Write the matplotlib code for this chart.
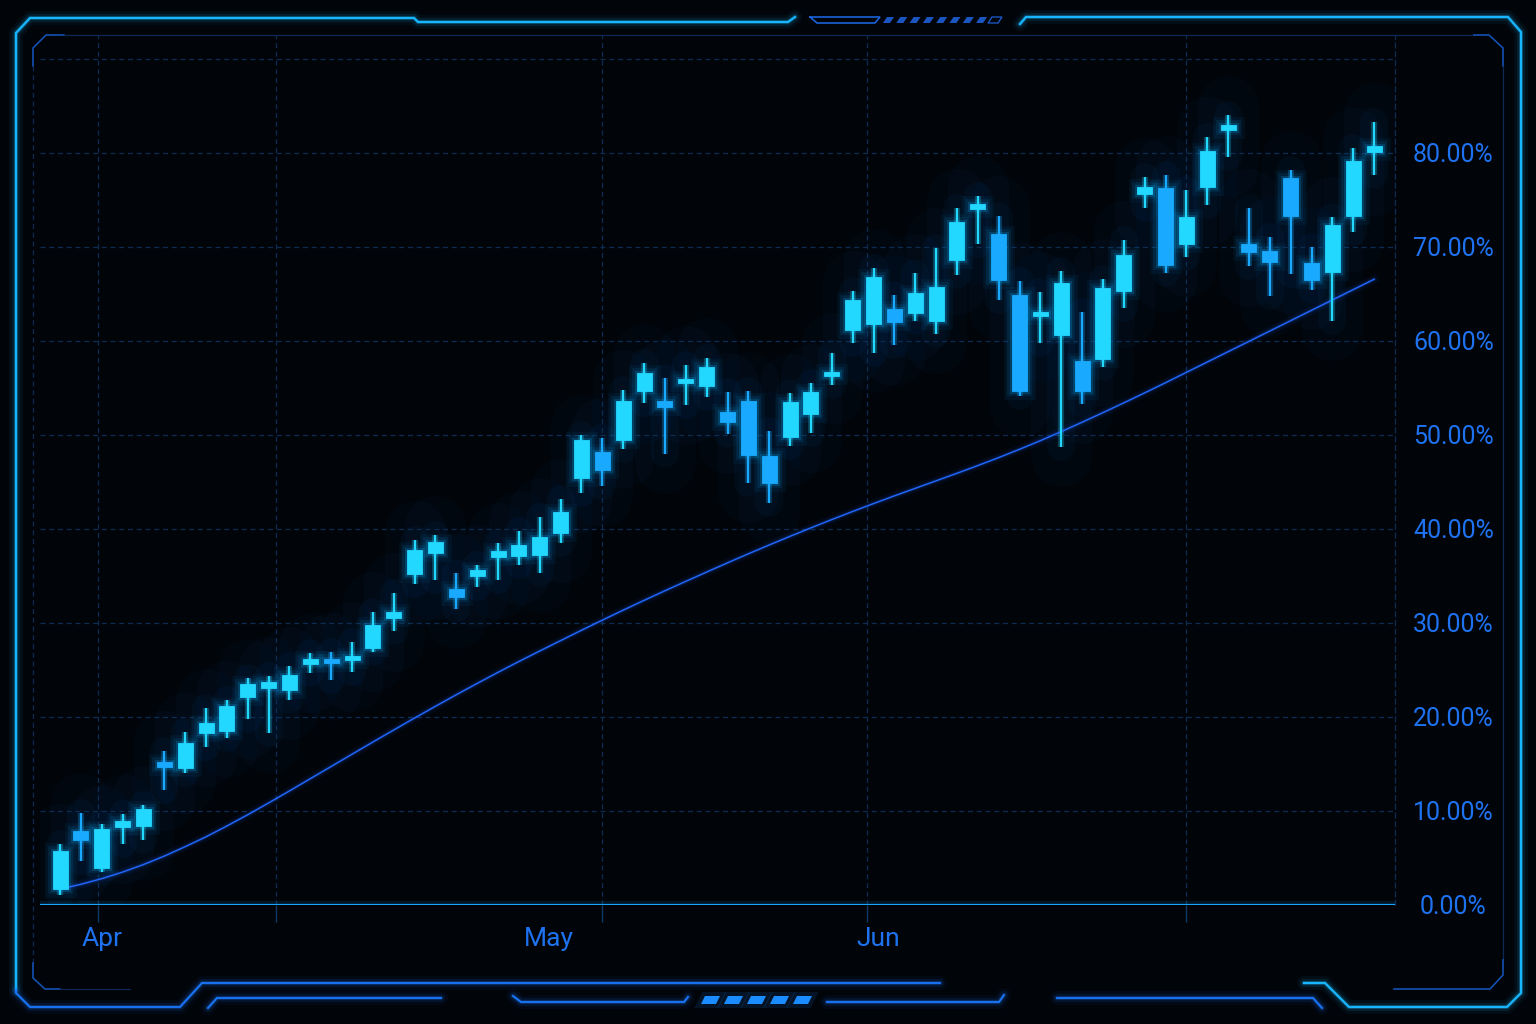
import numpy as np
import matplotlib
matplotlib.use("Agg")
from matplotlib import pyplot as plt
from matplotlib.patches import Polygon
from matplotlib.ticker import FuncFormatter

# daily candles (values in %)
opens = [1.7, 7.9, 3.9, 8.3, 8.4, 15.2, 14.6, 18.3, 18.5, 22.1,
         23.1, 22.9, 25.6, 26.2, 26.0, 27.3, 30.5, 35.2, 37.4, 33.6,
         35.0, 37.0, 37.1, 37.2, 39.6, 45.4, 48.2, 49.4, 54.6, 53.6,
         55.5, 55.2, 52.4, 53.6, 47.7, 49.8, 52.2, 56.2, 61.1, 61.8,
         63.4, 62.9, 62.1, 68.6, 74.0, 71.3, 64.9, 62.6, 60.6, 57.8,
         58.0, 65.3, 75.6, 76.2, 70.3, 76.3, 82.4, 70.3, 69.5, 77.3,
         68.3, 67.3, 73.3, 80.1]
closes = [5.7, 6.9, 8.1, 8.9, 10.2, 14.7, 17.2, 19.4, 21.2, 23.5,
          23.7, 24.5, 26.2, 25.7, 26.5, 29.8, 31.1, 37.7, 38.6, 32.7,
          35.6, 37.6, 38.3, 39.1, 41.8, 49.4, 46.3, 53.6, 56.6, 52.9,
          55.9, 57.2, 51.4, 47.8, 44.9, 53.5, 54.5, 56.7, 64.3, 66.8,
          62.0, 65.1, 65.7, 72.6, 74.5, 66.4, 54.6, 62.9, 66.1, 54.7,
          65.6, 69.1, 76.3, 68.0, 73.1, 80.2, 82.9, 69.4, 68.4, 73.3,
          66.5, 72.3, 79.1, 80.7]
highs = [6.5, 9.8, 8.6, 9.7, 10.6, 16.4, 18.4, 20.9, 21.8, 24.1,
         24.3, 25.4, 26.8, 26.9, 28.0, 31.2, 33.2, 38.8, 39.3, 35.3,
         36.2, 38.5, 39.8, 41.2, 43.2, 50.0, 49.7, 54.8, 57.6, 56.0,
         57.4, 58.2, 54.5, 54.6, 50.4, 54.4, 55.5, 58.7, 65.3, 67.7,
         64.9, 67.2, 69.9, 74.1, 75.4, 73.3, 66.3, 65.2, 67.4, 63.0,
         66.6, 70.7, 77.4, 77.6, 76.0, 81.7, 84.0, 74.1, 71.0, 78.1,
         70.0, 73.2, 80.5, 83.2]
lows = [1.1, 4.7, 3.5, 6.5, 6.9, 12.2, 14.0, 16.8, 17.8, 19.8,
        18.3, 21.8, 24.7, 23.9, 24.8, 26.9, 29.1, 34.1, 34.6, 31.5,
        33.8, 34.6, 36.2, 35.3, 38.5, 43.8, 44.5, 48.5, 53.4, 48.0,
        53.2, 54.0, 50.1, 44.9, 42.7, 48.8, 50.2, 55.3, 59.8, 58.7,
        59.5, 62.1, 60.7, 67.0, 70.3, 64.3, 54.1, 59.8, 48.7, 53.3,
        57.2, 63.5, 74.1, 67.2, 68.9, 74.4, 79.5, 67.9, 64.7, 67.1,
        65.4, 62.1, 71.6, 77.6]
# smooth trend line
trend = [1.7, 2.2, 2.8, 3.5, 4.3, 5.2, 6.2, 7.25, 8.4, 9.6,
         10.85, 12.13, 13.43, 14.73, 16.03, 17.33, 18.61, 19.88, 21.13, 22.36,
         23.56, 24.74, 25.89, 27.01, 28.11, 29.21, 30.29, 31.35, 32.39, 33.41,
         34.41, 35.4, 36.38, 37.34, 38.28, 39.2, 40.1, 40.98, 41.84, 42.68,
         43.5, 44.3, 45.1, 45.9, 46.72, 47.57, 48.45, 49.37, 50.33, 51.33,
         52.35, 53.39, 54.45, 55.53, 56.63, 57.73, 58.83, 59.93, 61.03, 62.13,
         63.23, 64.33, 65.43, 66.53]

month_pos = [2.0, 23.45, 39.2]
month_labels = ["Apr", "May", "Jun"]
grid_x = [1.8, 10.35, 26.0, 38.7, 54.0]
y_ticks = [0, 10, 20, 30, 40, 50, 60, 70, 80]

W, H = 1536, 1024
BG = "#010409"
UP = "#22d8ff"
DOWN = "#19aaff"
TXT = "#1e72f0"
GRID = "#0c2c52"

fig = plt.figure(figsize=(W / 100, H / 100), dpi=100, facecolor=BG)
ax = fig.add_axes([40 / W, 1 - 905 / H, (1395 - 40) / W, (905 - 35) / H])
ax.set_facecolor("none")
ax.set_xlim(-0.96, 64.0)
ax.set_ylim(0, 92.5)

o = np.array(opens)
c = np.array(closes)
hi = np.array(highs)
lo = np.array(lows)
x = np.arange(len(o))
up = c >= o
cols = np.where(up, UP, DOWN)
bot = np.minimum(o, c)
ht = np.maximum(np.abs(c - o), 0.45)

# haze behind the candles
ax.vlines(x, lo - 1, hi + 1, color="#0a56b0", lw=44, alpha=0.04, zorder=1, capstyle="round")
ax.vlines(x, lo, hi, color="#0b78e0", lw=20, alpha=0.05, zorder=1, capstyle="round")

# glow
for lw, a in [(12, 0.06), (7, 0.1), (3.5, 0.2)]:
    ax.bar(x, ht, width=0.72, bottom=bot, color="none", edgecolor="#0ab0ff",
           linewidth=lw, alpha=a, zorder=2)
ax.vlines(x, lo, hi, colors=cols, lw=4.5, alpha=0.25, zorder=3)
ax.vlines(x, lo, hi, colors=cols, lw=1.6, zorder=4)
ax.bar(x, ht, width=0.72, bottom=bot, color=cols, edgecolor=cols,
       linewidth=0.6, zorder=5)

# trend line
ax.plot(x, trend, color="#1a60ff", lw=6, alpha=0.07, zorder=2)
ax.plot(x, trend, color="#1a60ff", lw=2.6, alpha=0.18, zorder=2)
ax.plot(x, trend, color="#2268ff", lw=1.0, zorder=3)

# baseline
ax.axhline(0, color="#1aa6ff", lw=6, alpha=0.1, zorder=2)
ax.axhline(0, color="#1aa6ff", lw=1.6, zorder=3)
ax.axhline(90, color=GRID, lw=0.9, ls=(0, (4, 3)), zorder=0)

for s in ["left", "top", "bottom"]:
    ax.spines[s].set_visible(False)
ax.spines["right"].set_color(GRID)
ax.spines["right"].set_linestyle((0, (4, 3)))
ax.spines["right"].set_linewidth(0.9)

ax.yaxis.tick_right()
ax.set_yticks(y_ticks)
ax.yaxis.set_major_formatter(FuncFormatter(lambda v, p: "%.2f%%" % v))
ax.tick_params(axis="y", length=0, pad=42, labelsize=18, labelcolor=TXT)
for lab in ax.get_yticklabels():
    lab.set_ha("center")
    lab.set_fontfamily(["Roboto", "DejaVu Sans"])

ax.set_xticks(month_pos, month_labels)
ax.set_xticks(grid_x, minor=True)
ax.tick_params(axis="x", which="major", length=0, pad=16, labelsize=19, labelcolor=TXT)
ax.tick_params(axis="x", which="minor", length=12, width=1, color="#0d3868")
for lab in ax.get_xticklabels():
    lab.set_fontfamily(["Roboto", "DejaVu Sans"])

ax.grid(which="major", axis="y", color=GRID, lw=0.9, ls=(0, (4, 3)))
ax.grid(which="minor", axis="x", color=GRID, lw=0.9, ls=(0, (4, 3)))
ax.grid(which="major", axis="x", visible=False)

# HUD frame
ov = fig.add_axes([0, 0, 1, 1])
ov.set_xlim(0, W)
ov.set_ylim(H, 0)
ov.axis("off")
ov.patch.set_alpha(0)


def frame_line(pts, color, lw=1.6, alpha=1.0, glow=True, ls="-"):
    xs, ys = zip(*pts)
    if glow:
        for w, a in [(10, 0.05), (6, 0.1), (3, 0.25)]:
            ov.plot(xs, ys, color=color, lw=w, alpha=a * alpha,
                    solid_capstyle="round", solid_joinstyle="round")
    ov.plot(xs, ys, color=color, lw=lw, alpha=alpha, ls=ls,
            solid_joinstyle="miter")


CYAN = "#18b6ff"
BLUE = "#1a78ff"
DIM = "#0b2a55"

# outer frame
frame_line([(16, 990), (16, 33), (30, 18), (414, 18), (418, 22), (788, 22), (795, 17)], CYAN)
frame_line([(1020, 24), (1026, 17), (1508, 17), (1521, 32), (1521, 993), (1507, 1007),
            (1349, 1007), (1325, 983), (1304, 983)], CYAN)
frame_line([(16, 990), (16, 993), (30, 1007), (180, 1007), (202, 983), (940, 983)], BLUE, lw=1.3)
frame_line([(208, 1008), (217, 998), (441, 998)], BLUE, lw=1.3)
frame_line([(513, 996), (521, 1002), (684, 1002), (688, 997)], BLUE, lw=1.3)
frame_line([(827, 1002), (999, 1002), (1004, 995)], BLUE, lw=1.3)
frame_line([(1057, 998), (1313, 998), (1322, 1008)], BLUE, lw=1.3)

# top center trapezoid + hatch
frame_line([(810, 17), (880, 17), (875, 23), (817, 23), (810, 17)], "#1a62d8", lw=1.2, glow=False)
for k in range(8):
    x0 = 883 + k * 13.3
    ov.add_patch(Polygon([(x0 + 4, 17), (x0 + 11, 17), (x0 + 7, 23), (x0, 23)],
                         closed=True, color="#1a55c0", lw=0))
ov.add_patch(Polygon([(992, 17), (1002, 17), (998, 23), (988, 23)], closed=True,
                     fill=False, edgecolor="#1a55c0", lw=1))

# bottom center dashes
for k in range(5):
    x0 = 701 + k * 23
    for w, a in [(6, 0.12), (0, 1.0)]:
        ov.add_patch(Polygon([(x0 + 4, 996), (x0 + 19, 996), (x0 + 15, 1004), (x0, 1004)],
                             closed=True, facecolor="#1a8cff", edgecolor="#1a8cff",
                             lw=w, alpha=a))

# inner frame
frame_line([(33, 66), (33, 48), (46, 35), (64, 35)], "#1450b0", lw=1.2, glow=False)
frame_line([(64, 35), (1474, 35)], DIM, lw=0.9, glow=False)
frame_line([(1474, 35), (1489, 35), (1503, 48), (1503, 66)], "#1450b0", lw=1.2, glow=False)
frame_line([(1503, 66), (1503, 960)], DIM, lw=0.9, glow=False)
frame_line([(1503, 960), (1503, 975), (1490, 989), (1394, 989)], "#1450b0", lw=1.2, glow=False)
frame_line([(33, 66), (33, 963)], DIM, lw=0.9, glow=False, ls=(0, (4, 3)))
frame_line([(33, 963), (33, 978), (45, 989), (60, 989)], "#1450b0", lw=1.2, glow=False)
frame_line([(60, 989), (130, 989)], DIM, lw=0.9, glow=False)

fig.savefig("out.png", dpi=100, facecolor=BG)
